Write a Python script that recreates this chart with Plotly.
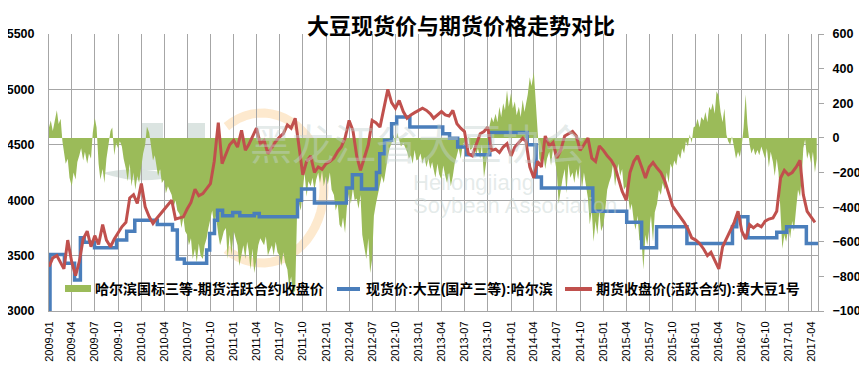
import plotly.graph_objects as go
import math

# ---------------- data ----------------
# futures: read twice a month (1st, 16th); basis spread: read four times a month
semi_dates, quarter_dates = [], []
for yr in range(2009, 2018):
    for mo in range(1, 13):
        if yr == 2017 and mo > 4:
            break
        for d in (1, 16):
            semi_dates.append(f"{yr}-{mo:02d}-{d:02d}")
        for d in (1, 8, 16, 23):
            quarter_dates.append(f"{yr}-{mo:02d}-{d:02d}")

futures_close = [
    3400, 3480, 3500, 3440, 3380, 3640, 3440, 3320, 3450, 3650,
    3720, 3580, 3680, 3600, 3780, 3640, 3580, 3650, 3700, 3760,
    3800, 4020, 4050, 3970, 4150, 3940, 3850, 3790, 3830, 3870,
    3910, 3950, 4000, 3830, 3840, 3850, 3920, 3980, 4100, 4040,
    4060, 4100, 4150, 4350, 4700, 4330, 4420, 4500, 4540, 4480,
    4630, 4450, 4500, 4580, 4650, 4510, 4540, 4420, 4480, 4530,
    4570, 4600, 4680, 4650, 4740, 4500, 4230, 4350, 4400, 4250,
    4300, 4280, 4330, 4350, 4380, 4440, 4480, 4560, 4720, 4630,
    4400, 4270, 4380, 4500, 4720, 4700, 4660, 4820, 5000, 4880,
    4830, 4900, 4800, 4740, 4770, 4790, 4810, 4830, 4810, 4780,
    4740, 4770, 4800, 4770, 4760, 4810, 4690, 4650, 4620, 4420,
    4400, 4500, 4600, 4620, 4660, 4450, 4460, 4430, 4480, 4510,
    4400, 4480, 4520, 4560, 4530, 4300, 4200, 4350, 4300, 4580,
    4490, 4520, 4380, 4450, 4580, 4600, 4620, 4580, 4450, 4500,
    4560, 4380, 4350, 4490, 4450, 4400, 4360, 4300, 4200, 4080,
    4000, 4250, 4350, 4400, 4300, 4200, 4300, 4340, 4290, 4250,
    4170, 4050, 3950, 3900, 3850, 3800, 3740, 3660, 3640, 3610,
    3560, 3500, 3530, 3460, 3380, 3580, 3650, 3710, 3800, 3900,
    3720, 3650, 3780, 3750, 3780, 3760, 3810, 3830, 3840, 3900,
    4200, 4270, 4230, 4250, 4300, 4360, 4050, 3900, 3850, 3800,
]

basis_spread = [
    # 2009
    60, 100, 40, 90,  160, 80, 110, -20,  -80, -150, -120, -230,  -280, -200, -240, -140,
    -100, -60, -130, -80,  -150, -90, -120, 30,  115, 60, -150, -240,  -180, -260, -120, -60,
    40, 60, -100, -30,  -60, -20, -50, -120,  -180, -250, -150, -280,  -200, -300, -220, -260,
    # 2010
    -160, -90, -40, 65,  30, -60, -130, -100,  -160, -220, -180, -260,  -240, -320, -280, -300,
    -330, -400, -360, -420,  -440, -520, -460, -540,  -560, -620, -580, -700,  -640, -720, -610, -680,
    -700, -620, -580, -520,  -470, -420, -510, -450,  -560, -620, -580, -540,  -520, -700, -560, -680,
    # 2011
    -540, -580, -620, -740,  -680, -620, -700, -600,  -650, -760, -640, -780,  -700, -620, -580, -600,
    -620, -570, -680, -650,  -620, -680, -600, -660,  -680, -740, -660, -720,  -760, -860, -800, -900,
    -880, -450, -380, -420,  -300, -200, -340, -250,  -280, -230, -300, -240,  -200, -260, -190, -280,
    # 2012
    -220, -270, -200, -300,  -330, -420, -380, -500,  -520, -460, -550, -400,  -320, -380, -290, -360,
    -350, -410, -330, -560,  -640, -700, -580, -780,  -700, -450, -380, -330,  -280, -220, -260, -180,
    -110, -60, -30, 20,  -40, 30, -20, -50,  -30, -50, -80, -120,  -100, -150, -70, -130,
    # 2013
    -120, -90, -150, -110,  -170, -120, -180, -140,  -180, -230, -150, -210,  -240, -160, -220, -260,
    -200, -280, -220, -150,  -100, -60, -120, -50,  -20, -50, 10, -70,  -60, -30, -100, -60,
    -120, -40, -230, -150,  -80, 70, 120, 90,  140, 90, 180, 120,  200, 160, 275, 180,
    # 2014
    260, 170, 210, 130,  180, 120, 220, 150,  200, 250, 350, 300,  380, 200, 40, -120,
    -150, -90, -180, -120,  -80, -160, -60, -140,  -200, -380, -300, -240,  -180, -320, -150, -230,
    -200, -260, -180, -240,  -150, -300, -200, -280,  -350, -500, -420, -600,  -480, -560, -420, -540,
    # 2015
    -500, -420, -300, -260,  -220, -150, -280, -200,  -150, -220, -180, -300,  -280, -330, -420, -380,
    -480, -530, -450, -590,  -600, -760, -560, -620,  -520, -450, -600, -430,  -380, -300, -330, -260,
    -300, -200, -260, -150,  -180, -130, -160, -90,  -120, -60, -90, -20,  -50, 20, -30, 60,
    # 2016
    70, 110, 60, 120,  100, 150, 90, 180,  160, 200, 140, 270,  240, 150, 90, 170,
    20, -20, -40, 10,  -60, -120, -80, -110,  -40, 60, 250, 80,  -40, -90, -60, -100,
    -70, -100, -50, -90,  -120, -60, -170, -80,  -140, -220, -120, -200,  -450, -640, -560, -600,
    # 2017
    -520, -580, -480, -540,  -400, -300, -340, -220,  -60, -10, -120, -80,  -150, -80, -200, -120,
]

spot_dates = [
    "2009-01-01", "2009-01-05", "2009-03-03", "2009-04-12", "2009-05-05",
    "2009-05-20", "2009-06-30", "2009-09-25", "2009-11-04", "2009-12-06",
    "2010-03-05", "2010-05-04", "2010-05-23", "2010-06-20", "2010-09-16",
    "2010-09-28", "2010-10-17", "2010-10-29", "2010-11-18", "2010-12-28",
    "2011-01-25", "2011-03-23", "2011-04-12", "2011-09-10", "2011-09-26",
    "2011-11-16", "2012-03-21", "2012-04-14", "2012-05-20", "2012-07-18",
    "2012-07-31", "2012-08-19", "2012-09-16", "2012-10-06", "2012-11-27",
    "2013-04-06", "2013-05-03", "2013-06-04", "2013-07-09", "2013-10-09",
    "2014-03-06", "2014-04-10", "2014-05-01", "2014-11-20", "2015-04-03",
    "2015-06-01", "2015-07-30", "2015-11-27", "2016-05-25", "2016-06-11",
    "2016-07-25", "2016-11-16", "2016-12-25", "2017-03-13", "2017-04-28",
]
spot_price = [
    2900, 3510, 3430, 3280, 3660, 3620, 3570, 3640, 3720, 3820,
    3780, 3730, 3470, 3430, 3550, 3700, 3820, 3910, 3860, 3890,
    3860, 3880, 3850, 4000, 4100, 3975, 4110, 4230, 4100, 4250,
    4420, 4540, 4690, 4750, 4660, 4600, 4560, 4480, 4410, 4610,
    4500, 4210, 4110, 3900, 3800, 3570, 3760, 3610, 3760, 3850,
    3660, 3710, 3760, 3610, 3610,
]

series_names = [
    "哈尔滨国标三等-期货活跃合约收盘价",
    "现货价:大豆(国产三等):哈尔滨",
    "期货收盘价(活跃合约):黄大豆1号",
]
series_colors = ["#9bbb59", "#4a7ebb", "#c0504d"]
title_text = "大豆现货价与期货价格走势对比"

# ---------------- layout helpers ----------------
# screen coordinates of the reference; the page body adds an 8px offset
OFF = 8
W, H = 867, 375
L, R, T, B = 49 - OFF, 818 - OFF, 34 - OFF, 311 - OFF


def px(x, y):
    """screen pixel -> paper coords"""
    return (x - OFF - L) / (R - L), (B - (y - OFF)) / (B - T)


CJK = "Noto Sans CJK SC"
LAT = "Liberation Sans, Arial, Noto Sans CJK SC"
GRID = "#a6a6a6"

fig = go.Figure()
fig.add_trace(go.Scatter(
    x=quarter_dates, y=basis_spread, name=series_names[0], yaxis="y",
    mode="lines", line=dict(width=0, color=series_colors[0]), fill="tozeroy",
    fillcolor=series_colors[0],
))
fig.add_trace(go.Scatter(
    x=spot_dates, y=spot_price, name=series_names[1], yaxis="y2",
    mode="lines", line=dict(width=3.5, color=series_colors[1], shape="hv"),
))
fig.add_trace(go.Scatter(
    x=semi_dates, y=futures_close, name=series_names[2], yaxis="y2",
    mode="lines", line=dict(width=3, color=series_colors[2]),
))

annotations = []
shapes = []

# ---- custom legend row (inside plot, bottom) ----
leg_y = 289
a0, b0 = px(65, 292)
a1, b1 = px(91, 285)
shapes.append(dict(type="rect", x0=a0, y0=b0, x1=a1, y1=b1, xref="paper", yref="paper",
                   line=dict(width=0), fillcolor=series_colors[0]))
for (x0, x1, col) in [(337, 360, series_colors[1]), (565, 592, series_colors[2])]:
    a0, b0 = px(x0, leg_y)
    a1, _ = px(x1, leg_y)
    shapes.append(dict(type="line", x0=a0, y0=b0, x1=a1, y1=b0, xref="paper", yref="paper",
                       line=dict(color=col, width=4)))
for name, xs in zip(series_names, [93, 364, 594]):
    xp, yp = px(xs, leg_y)
    annotations.append(dict(text=name, x=xp, y=yp, xref="paper", yref="paper",
                            xanchor="left", yanchor="middle", showarrow=False,
                            font=dict(family=LAT, size=14, color="black", weight="bold")))

# ---- faint watermark ----
wm = "rgba(196,210,207,0.45)"
xp, yp = px(588, 141)
annotations.append(dict(text="黑龙江省大豆协会", x=xp, y=yp, xref="paper", yref="paper",
                        showarrow=False, font=dict(family=CJK, size=42, color=wm)))
xp, yp = px(411, 182)
annotations.append(dict(text="Heilongjiang", x=xp, y=yp, xref="paper", yref="paper",
                        xanchor="left", showarrow=False,
                        font=dict(family="Liberation Sans", size=22, color=wm)))
xp, yp = px(411, 206)
annotations.append(dict(text="Soybean Association", x=xp, y=yp, xref="paper", yref="paper",
                        xanchor="left", showarrow=False,
                        font=dict(family="Liberation Sans", size=22, color=wm)))

pts = []
for i in range(41):
    a = math.radians(-125 + 250 * i / 40)
    pts.append(px(262 + 62 * math.cos(a), 188 + 75 * math.sin(a)))
path = "M " + " L ".join(f"{a:.4f},{b:.4f}" for a, b in pts)
shapes.append(dict(type="path", path=path, xref="paper", yref="paper", layer="below",
                   line=dict(color="rgba(252,226,190,0.75)", width=9)))
logo_grey = "rgba(210,221,218,0.8)"
for (x0, y0, x1, y1) in [(142, 123, 163, 170), (188, 123, 205, 140)]:
    a0, b0 = px(x0, y1)
    a1, b1 = px(x1, y0)
    shapes.append(dict(type="rect", x0=a0, y0=b0, x1=a1, y1=b1, xref="paper", yref="paper",
                       layer="below", line=dict(width=0), fillcolor=logo_grey))
# grey swoosh under the logo
p1, c1, p2, c2 = px(102, 173), px(140, 164), px(175, 176), px(140, 186)
swoosh = (f"M {p1[0]:.4f},{p1[1]:.4f} Q {c1[0]:.4f},{c1[1]:.4f} {p2[0]:.4f},{p2[1]:.4f} "
          f"Q {c2[0]:.4f},{c2[1]:.4f} {p1[0]:.4f},{p1[1]:.4f} Z")
shapes.append(dict(type="path", path=swoosh, xref="paper", yref="paper", layer="below",
                   line=dict(width=0), fillcolor=logo_grey))

tx, ty = 461 - OFF, 26 - OFF
fig.update_layout(
    width=W, height=H,
    margin=dict(l=L, r=W - R, t=T, b=H - B, autoexpand=False),
    paper_bgcolor="white", plot_bgcolor="white",
    title=dict(text=title_text, x=tx / W, y=1 - ty / H, xanchor="center", yanchor="middle",
               font=dict(family=CJK, size=22, color="black", weight="bold")),
    showlegend=False,
    xaxis=dict(
        type="date", range=["2009-01-01", "2017-04-28"], tick0="2009-01-01", dtick="M3",
        tickformat="%Y-%m", tickangle=-90, showgrid=True, gridcolor=GRID, gridwidth=1,
        showline=True, linecolor=GRID, ticks="", zeroline=False, automargin=False,
        tickfont=dict(family="Liberation Sans", size=11, color="black"),
        ticklabelstandoff=5,
    ),
    yaxis=dict(
        side="right", range=[-1000, 600], dtick=200, showgrid=False, zeroline=False,
        showline=True, linecolor=GRID, ticks="outside", ticklen=5, tickcolor=GRID,
        automargin=False,
        tickfont=dict(family="Liberation Sans", size=12.5, color="black", weight="bold"),
        ticklabelstandoff=6,
    ),
    yaxis2=dict(
        overlaying="y", side="left", range=[3000, 5500], dtick=500, showgrid=True,
        gridcolor=GRID, gridwidth=1, zeroline=False, showline=True, linecolor=GRID,
        ticks="", automargin=False,
        tickfont=dict(family="Liberation Sans", size=12.5, color="black", weight="bold"),
        ticklabelstandoff=11,
    ),
    annotations=annotations,
    shapes=shapes,
)

fig.write_html("out.html")
